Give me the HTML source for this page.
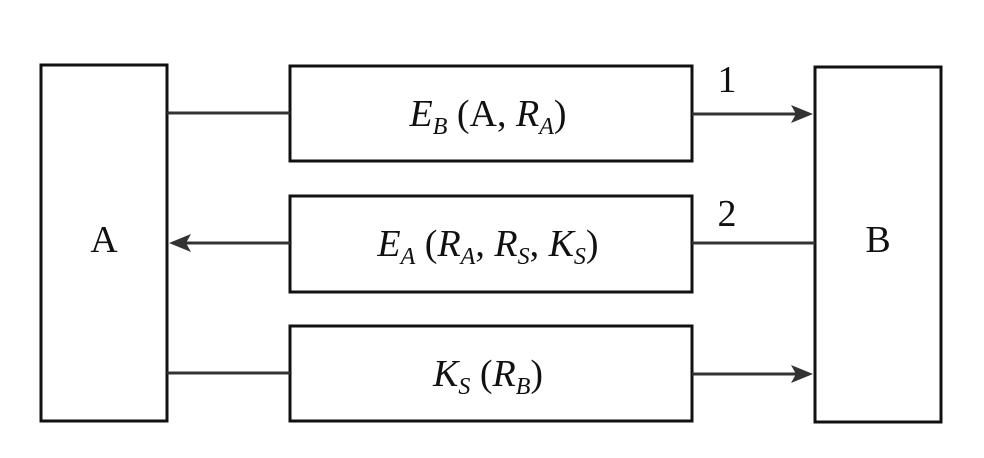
<!DOCTYPE html>
<html><head><style>body{margin:0;background:#fff}</style></head><body>
<svg width="984" height="458" xmlns="http://www.w3.org/2000/svg" style="display:block">
<g fill="none" stroke="#111" stroke-width="3">
<rect x="41" y="65" width="126" height="356"/>
<rect x="815" y="67" width="126" height="355"/>
<rect x="290" y="66" width="402" height="95"/>
<rect x="290" y="196" width="402" height="96"/>
<rect x="290" y="326" width="402" height="95"/>
</g>
<g stroke="#333" stroke-width="3">
<line x1="167" y1="113" x2="290" y2="113"/>
<line x1="692" y1="114" x2="800" y2="114"/>
<line x1="815" y1="243" x2="692" y2="243"/>
<line x1="290" y1="243" x2="180" y2="243"/>
<line x1="167" y1="373" x2="290" y2="373"/>
<line x1="692" y1="374" x2="800" y2="374"/>
</g>
<g fill="#333">
<path d="M813,114 L791,105 L796,114 L791,123 Z"/>
<path d="M813,374 L791,365 L796,374 L791,383 Z"/>
<path d="M169,243 L191,234 L186,243 L191,252 Z"/>
</g>
<g font-family="Liberation Serif, serif" font-size="38" fill="#111" text-anchor="middle">
<text x="104" y="252">A</text>
<text x="878" y="252">B</text>
<text x="727" y="92">1</text>
<text x="727" y="226">2</text>
<text x="488" y="126"><tspan font-style="italic">E</tspan><tspan font-style="italic" font-size="24" dy="8">B</tspan><tspan dy="-8"> (A, </tspan><tspan font-style="italic">R</tspan><tspan font-style="italic" font-size="24" dy="8">A</tspan><tspan dy="-8">)</tspan></text>
<text x="488" y="256"><tspan font-style="italic">E</tspan><tspan font-style="italic" font-size="24" dy="8">A</tspan><tspan dy="-8"> (</tspan><tspan font-style="italic">R</tspan><tspan font-style="italic" font-size="24" dy="8">A</tspan><tspan dy="-8">, </tspan><tspan font-style="italic">R</tspan><tspan font-style="italic" font-size="24" dy="8">S</tspan><tspan dy="-8">, </tspan><tspan font-style="italic">K</tspan><tspan font-style="italic" font-size="24" dy="8">S</tspan><tspan dy="-8">)</tspan></text>
<text x="488" y="386"><tspan font-style="italic">K</tspan><tspan font-style="italic" font-size="24" dy="8">S</tspan><tspan dy="-8"> (</tspan><tspan font-style="italic">R</tspan><tspan font-style="italic" font-size="24" dy="8">B</tspan><tspan dy="-8">)</tspan></text>
</g>
</svg>
</body></html>
